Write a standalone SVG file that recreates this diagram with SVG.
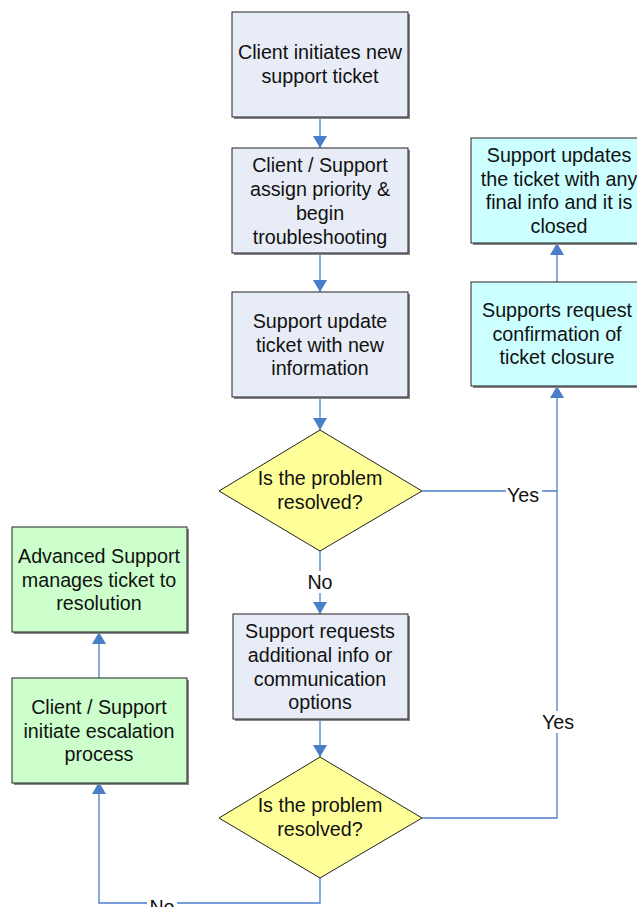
<svg xmlns="http://www.w3.org/2000/svg" width="637" height="907" viewBox="0 0 637 907">
<style>
.box{stroke:#222;stroke-width:1}
.shadow{fill:#888}
.blue{fill:#E8ECF6}
.cyan{fill:#CCFFFF}
.green{fill:#CCFFCC}
.dia{fill:#FFFF99;stroke:#222;stroke-width:1}
.t{font-family:"Liberation Sans",Arial,sans-serif;font-size:19.7px;fill:#111;text-anchor:middle}
.c{fill:none;stroke:#4A7EC8;stroke-width:1.3}
.lbg{fill:#fff}
</style>
<defs>
<marker id="ah" viewBox="0 0 12 14" refX="12" refY="7" markerWidth="12" markerHeight="14" markerUnits="userSpaceOnUse" orient="auto">
<path d="M0,0 L12,7 L0,14 Z" fill="#4A7EC8"/>
</marker>
</defs>
<g id="connectors">
<line class="c" x1="320" y1="117" x2="320" y2="148" marker-end="url(#ah)"/>
<line class="c" x1="320" y1="253" x2="320" y2="292" marker-end="url(#ah)"/>
<line class="c" x1="320" y1="397" x2="320" y2="430" marker-end="url(#ah)"/>
<line class="c" x1="320" y1="551" x2="320" y2="614" marker-end="url(#ah)"/>
<line class="c" x1="320" y1="719" x2="320" y2="757" marker-end="url(#ah)"/>
<polyline class="c" points="422,491 557,491"/>
<polyline class="c" points="422,818 557,818 557,386" marker-end="url(#ah)"/>
<line class="c" x1="557" y1="282" x2="557" y2="243" marker-end="url(#ah)"/>
<polyline class="c" points="320,878 320,903 99,903 99,782" marker-end="url(#ah)"/>
<line class="c" x1="99" y1="678" x2="99" y2="632" marker-end="url(#ah)"/>
<rect class="lbg" x="306" y="571" width="28" height="22"/>
<text class="t" x="320" y="589">No</text>
<rect class="lbg" x="506" y="482" width="36" height="20"/>
<text class="t" x="523" y="502">Yes</text>
<rect class="lbg" x="540" y="711" width="36" height="22"/>
<text class="t" x="558" y="729">Yes</text>
<rect class="lbg" x="147" y="897" width="30" height="10"/>
<text class="t" x="162" y="914">No</text>
</g>
<g id="n1">
<rect class="shadow" x="234" y="14" width="176" height="105"/>
<rect class="box blue" x="232" y="12" width="176" height="105"/>
<text class="t" x="320" y="59">Client initiates new</text>
<text class="t" x="320" y="83">support ticket</text>
</g>
<g id="n2">
<rect class="shadow" x="234" y="150" width="176" height="105"/>
<rect class="box blue" x="232" y="148" width="176" height="105"/>
<text class="t" x="320" y="172">Client / Support</text>
<text class="t" x="320" y="196">assign priority &amp;</text>
<text class="t" x="320" y="220">begin</text>
<text class="t" x="320" y="244">troubleshooting</text>
</g>
<g id="n3">
<rect class="shadow" x="234" y="294" width="176" height="105"/>
<rect class="box blue" x="232" y="292" width="176" height="105"/>
<text class="t" x="320" y="328">Support update</text>
<text class="t" x="320" y="352">ticket with new</text>
<text class="t" x="320" y="375">information</text>
</g>
<g id="d1">
<polygon class="dia" points="320,430 422,491 320,551 219,491"/>
<text class="t" x="320" y="485">Is the problem</text>
<text class="t" x="320" y="509">resolved?</text>
</g>
<g id="n4">
<rect class="shadow" x="235" y="616" width="175" height="105"/>
<rect class="box blue" x="233" y="614" width="175" height="105"/>
<text class="t" x="320" y="638">Support requests</text>
<text class="t" x="320" y="662">additional info or</text>
<text class="t" x="320" y="686">communication</text>
<text class="t" x="320" y="709">options</text>
</g>
<g id="d2">
<polygon class="dia" points="320,757 422,818 320,878 219,818"/>
<text class="t" x="320" y="812">Is the problem</text>
<text class="t" x="320" y="836">resolved?</text>
</g>
<g id="n5">
<rect class="shadow" x="473" y="284" width="176" height="104"/>
<rect class="box cyan" x="471" y="282" width="176" height="104"/>
<text class="t" x="557" y="317">Supports request</text>
<text class="t" x="557" y="341">confirmation of</text>
<text class="t" x="557" y="364">ticket closure</text>
</g>
<g id="n6">
<rect class="shadow" x="473" y="140" width="176" height="105"/>
<rect class="box cyan" x="471" y="138" width="176" height="105"/>
<text class="t" x="559" y="162">Support updates</text>
<text class="t" x="559" y="186">the ticket with any</text>
<text class="t" x="559" y="209">final info and it is</text>
<text class="t" x="559" y="233">closed</text>
</g>
<g id="n7">
<rect class="shadow" x="14" y="529" width="175" height="105"/>
<rect class="box green" x="12" y="527" width="175" height="105"/>
<text class="t" x="99" y="563">Advanced Support</text>
<text class="t" x="99" y="587">manages ticket to</text>
<text class="t" x="99" y="610">resolution</text>
</g>
<g id="n8">
<rect class="shadow" x="14" y="680" width="175" height="105"/>
<rect class="box green" x="12" y="678" width="175" height="105"/>
<text class="t" x="99" y="714">Client / Support</text>
<text class="t" x="99" y="738">initiate escalation</text>
<text class="t" x="99" y="761">process</text>
</g>
</svg>
